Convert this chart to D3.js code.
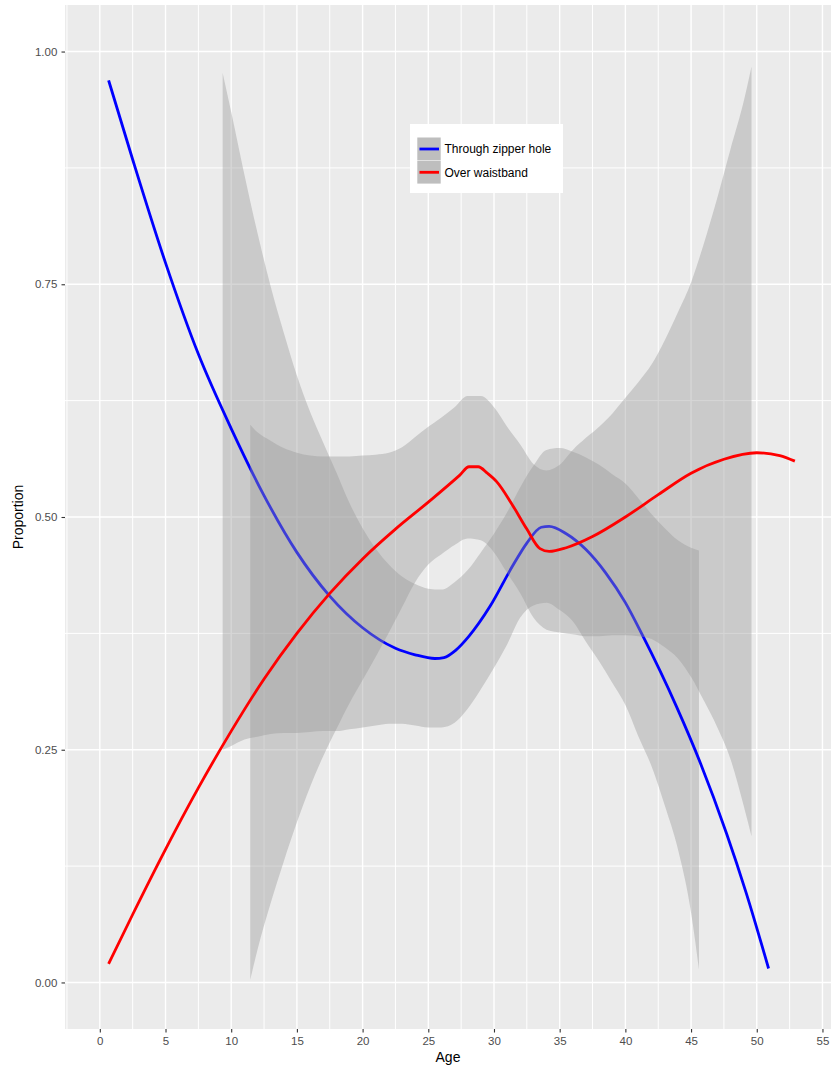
<!DOCTYPE html>
<html>
<head>
<meta charset="utf-8">
<script src="https://cdn.jsdelivr.net/npm/d3@7"></script>
<style>
  body { margin: 0; background: #ffffff; }
  text { font-family: "Liberation Sans", Arial, Helvetica, sans-serif; }
</style>
</head>
<body>
<svg id="chart" width="831" height="1071"></svg>
<script>
// ---- smoothed proportion curves by age ----
const seriesNames = ["Through zipper hole", "Over waistband"];
const seriesColors = ["#0000FF", "#FF0000"];

const zipAge  = [0.67, 2.5, 5, 7.5, 10, 12.5, 15, 17.5, 20, 22.5, 24, 25.5, 26.2, 27.1, 28.1, 29.7, 31.4, 32.5, 33.6, 34.2, 35.5, 37, 38.5, 40, 41.3, 43.9, 45.7, 47.7, 49.2, 50.9];
const zipProp = [0.969, 0.884, 0.773, 0.675, 0.595, 0.523, 0.462, 0.415, 0.381, 0.359, 0.352, 0.348, 0.349, 0.357, 0.372, 0.404, 0.447, 0.472, 0.489, 0.490, 0.482, 0.465, 0.440, 0.408, 0.373, 0.296, 0.236, 0.160, 0.096, 0.015];

const waistAge  = [0.67, 2.5, 5, 7.5, 10, 12.5, 15, 17.5, 20, 22.5, 25, 27.4, 28.1, 28.8, 29.5, 30.2, 31.4, 32.5, 33.5, 34.2, 35.5, 37.5, 40, 42.5, 45, 47.5, 50, 51.75, 52.9];
const waistProp = [0.020, 0.073, 0.143, 0.209, 0.270, 0.326, 0.375, 0.418, 0.455, 0.487, 0.516, 0.545, 0.554, 0.554, 0.547, 0.538, 0.513, 0.487, 0.466, 0.463, 0.467, 0.479, 0.500, 0.524, 0.547, 0.562, 0.569, 0.566, 0.560];

// ---- confidence bands (kept only inside 0..1) ----
const zipBandAge = [9.35, 10, 11, 12, 13, 14, 15, 16, 17, 18, 19, 20, 21, 22, 23, 24, 25, 26, 27, 28, 29, 30, 31, 32, 33, 34, 35, 36, 37, 38, 39, 40, 41, 42, 43, 44, 45, 45.6];
const zipBandLow = [0.250, 0.254, 0.261, 0.264, 0.267, 0.268, 0.268, 0.269, 0.270, 0.270, 0.272, 0.274, 0.276, 0.278, 0.278, 0.276, 0.274, 0.274, 0.279, 0.294, 0.315, 0.338, 0.363, 0.392, 0.405, 0.408, 0.400, 0.388, 0.366, 0.345, 0.322, 0.298, 0.264, 0.232, 0.190, 0.143, 0.075, 0.014];
const zipBandHigh = [0.977, 0.935, 0.868, 0.805, 0.748, 0.698, 0.652, 0.613, 0.580, 0.548, 0.515, 0.488, 0.466, 0.449, 0.436, 0.428, 0.423, 0.422, 0.430, 0.443, 0.462, 0.482, 0.505, 0.532, 0.555, 0.572, 0.574, 0.570, 0.564, 0.556, 0.546, 0.536, 0.520, 0.503, 0.488, 0.475, 0.467, 0.464];

const waistBandAge = [11.45, 12, 13, 14, 15, 16, 17, 18, 19, 20, 21, 22, 23, 24, 25, 26, 27, 28, 29, 30, 31, 32, 33, 34, 35, 36, 37, 38, 39, 40, 41, 42, 43, 44, 45, 46, 47, 48, 49, 49.6];
const waistBandLow = [0.003, 0.035, 0.085, 0.130, 0.172, 0.210, 0.243, 0.272, 0.300, 0.325, 0.350, 0.376, 0.403, 0.430, 0.449, 0.460, 0.470, 0.477, 0.475, 0.462, 0.440, 0.418, 0.392, 0.379, 0.376, 0.374, 0.372, 0.372, 0.373, 0.373, 0.372, 0.369, 0.360, 0.348, 0.328, 0.302, 0.274, 0.240, 0.190, 0.157];
const waistBandHigh = [0.599, 0.591, 0.582, 0.574, 0.569, 0.566, 0.565, 0.565, 0.565, 0.566, 0.567, 0.569, 0.575, 0.586, 0.597, 0.607, 0.618, 0.630, 0.630, 0.618, 0.597, 0.578, 0.557, 0.550, 0.556, 0.572, 0.585, 0.597, 0.611, 0.628, 0.645, 0.664, 0.690, 0.720, 0.752, 0.795, 0.843, 0.895, 0.946, 0.984];

// ---- axis breaks ----
const xMajor = [0, 5, 10, 15, 20, 25, 30, 35, 40, 45, 50, 55];
const xMinor = [-2.5, 2.5, 7.5, 12.5, 17.5, 22.5, 27.5, 32.5, 37.5, 42.5, 47.5, 52.5];
const yMajor = [0, 0.25, 0.5, 0.75, 1];
const yMinor = [0.125, 0.375, 0.625, 0.875];
const yTickLabels = ["0.00", "0.25", "0.50", "0.75", "1.00"];

// ---- layout ----
const panel = { left: 65, top: 5, right: 831, bottom: 1029 };
const svg = d3.select("#chart");

const x = d3.scaleLinear().domain([-2.65, 55.65]).range([panel.left, panel.right]);
const y = d3.scaleLinear().domain([-0.05, 1.05]).range([panel.bottom, panel.top]);

svg.append("rect").attr("width", 831).attr("height", 1071).attr("fill", "#ffffff");

svg.append("defs").append("clipPath").attr("id", "panel-clip")
  .append("rect")
  .attr("x", panel.left).attr("y", panel.top)
  .attr("width", panel.right - panel.left).attr("height", panel.bottom - panel.top);

svg.append("rect")
  .attr("x", panel.left).attr("y", panel.top)
  .attr("width", panel.right - panel.left).attr("height", panel.bottom - panel.top)
  .attr("fill", "#EBEBEB");

const grid = svg.append("g").attr("clip-path", "url(#panel-clip)");
grid.selectAll(".ymin").data(yMinor).join("line")
  .attr("x1", panel.left).attr("x2", panel.right)
  .attr("y1", d => y(d)).attr("y2", d => y(d))
  .attr("stroke", "#ffffff").attr("stroke-width", 1.0);
grid.selectAll(".xmin").data(xMinor).join("line")
  .attr("y1", panel.top).attr("y2", panel.bottom)
  .attr("x1", d => x(d)).attr("x2", d => x(d))
  .attr("stroke", "#ffffff").attr("stroke-width", 1.0);
grid.selectAll(".ymaj").data(yMajor).join("line")
  .attr("x1", panel.left).attr("x2", panel.right)
  .attr("y1", d => y(d)).attr("y2", d => y(d))
  .attr("stroke", "#ffffff").attr("stroke-width", 1.4);
grid.selectAll(".xmaj").data(xMajor).join("line")
  .attr("y1", panel.top).attr("y2", panel.bottom)
  .attr("x1", d => x(d)).attr("x2", d => x(d))
  .attr("stroke", "#ffffff").attr("stroke-width", 1.4);

// ---- marks: band then curve for each group ----
const plot = svg.append("g").attr("clip-path", "url(#panel-clip)");

const area = d3.area()
  .x(d => x(d[0])).y0(d => y(d[1])).y1(d => y(d[2]))
  .curve(d3.curveMonotoneX);
const line = d3.line()
  .x(d => x(d[0])).y(d => y(d[1]))
  .curve(d3.curveMonotoneX);

const groups = [
  { band: zipBandAge.map((a, i) => [a, zipBandLow[i], zipBandHigh[i]]),
    curve: zipAge.map((a, i) => [a, zipProp[i]]), color: seriesColors[0] },
  { band: waistBandAge.map((a, i) => [a, waistBandLow[i], waistBandHigh[i]]),
    curve: waistAge.map((a, i) => [a, waistProp[i]]), color: seriesColors[1] }
];

groups.forEach(g => {
  plot.append("path").datum(g.band)
    .attr("d", area)
    .attr("fill", "#999999").attr("fill-opacity", 0.4);
  plot.append("path").datum(g.curve)
    .attr("d", line)
    .attr("fill", "none").attr("stroke", g.color)
    .attr("stroke-width", 2.8).attr("stroke-linejoin", "round");
});

// ---- axes ----
const xAxis = svg.append("g")
  .attr("transform", `translate(0,${panel.bottom})`)
  .call(d3.axisBottom(x).tickValues(xMajor).tickSize(3.5).tickPadding(4.2).tickFormat(d3.format("d")));
const yAxis = svg.append("g")
  .attr("transform", `translate(${panel.left},0)`)
  .call(d3.axisLeft(y).tickValues(yMajor).tickSize(3.5).tickPadding(4.2)
        .tickFormat((d, i) => yTickLabels[i]));

[xAxis, yAxis].forEach(a => {
  a.select(".domain").remove();
  a.selectAll(".tick line").attr("stroke", "#333333").attr("stroke-width", 1.1);
  a.selectAll(".tick text")
    .attr("fill", "#4D4D4D")
    .style("font-size", "11.5px")
    .style("font-family", "'Liberation Sans', Arial, sans-serif");
});

svg.append("text")
  .attr("x", (panel.left + panel.right) / 2).attr("y", 1062)
  .attr("text-anchor", "middle")
  .style("font-size", "14px").attr("fill", "#000000")
  .text("Age");

svg.append("text")
  .attr("transform", `translate(22.5,${(panel.top + panel.bottom) / 2}) rotate(-90)`)
  .attr("text-anchor", "middle")
  .style("font-size", "14px").attr("fill", "#000000")
  .text("Proportion");

// ---- legend ----
const legend = svg.append("g");
legend.append("rect")
  .attr("x", 410).attr("y", 124).attr("width", 153).attr("height", 69)
  .attr("fill", "#ffffff");

seriesNames.forEach((name, i) => {
  const top = 137.5 + i * 23.3;
  legend.append("rect")
    .attr("x", 417.3).attr("y", top).attr("width", 23.4).attr("height", 22.8)
    .attr("fill", "#BEBEBE");
  legend.append("line")
    .attr("x1", 419.5).attr("x2", 439).attr("y1", top + 11.5).attr("y2", top + 11.5)
    .attr("stroke", seriesColors[i]).attr("stroke-width", 2.8);
  legend.append("text")
    .attr("x", 444.5).attr("y", top + 11.5)
    .attr("dy", "0.36em")
    .style("font-size", "12px").attr("fill", "#000000")
    .text(name);
});
</script>
</body>
</html>
